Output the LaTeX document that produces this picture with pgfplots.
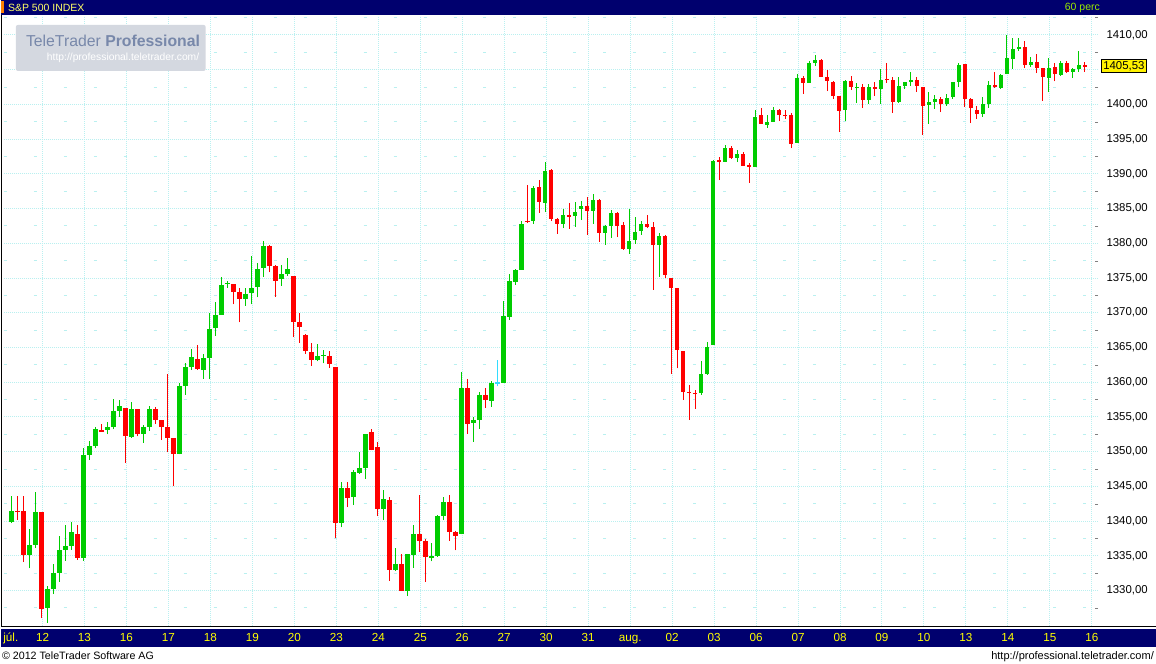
\documentclass[border=0pt]{standalone}
\usepackage{pgfplots}
\usepackage{pgfplotstable}
\pgfplotsset{compat=1.18}
\usepackage{fontspec}
\setmainfont{Liberation Sans}
\definecolor{navy}{RGB}{0,0,110}
\definecolor{cgreen}{RGB}{0,204,0}
\definecolor{cred}{RGB}{255,0,0}
\definecolor{ccyan}{RGB}{51,220,255}
\definecolor{gridc}{RGB}{185,240,240}
\definecolor{ylab}{RGB}{255,255,0}
\definecolor{wmbox}{RGB}{212,216,224}
\definecolor{wmtext}{RGB}{120,136,170}

% hourly candles, x = bar index, columns: open high low close
\pgfplotstableread{
i o h l c
0 1339.9 1343.6 1339.7 1341.5
3 1335.2 1338.8 1333.2 1336.6
4 1336.6 1344.2 1336.1 1341.3
6 1327.5 1330.6 1325.3 1330.3
7 1330.3 1333.8 1329.5 1332.5
8 1332.5 1337.8 1331.3 1335.8
9 1335.8 1339.4 1334.3 1336.4
10 1336.4 1339.8 1335.9 1338.4
12 1334.7 1350.5 1334.3 1349.5
13 1349.5 1351.5 1348.8 1350.8
14 1350.8 1353.5 1350.5 1353.2
16 1353.1 1354.3 1352.5 1353.6
17 1353.5 1357.6 1353.2 1355.9
18 1355.9 1357.5 1355.0 1356.6
20 1352.1 1357.2 1352.0 1356.2
22 1352.5 1353.8 1351.3 1353.5
23 1353.5 1356.6 1353.0 1356.1
28 1349.7 1359.9 1349.6 1359.5
29 1359.5 1362.8 1358.2 1362.2
30 1362.2 1364.8 1361.8 1363.6
32 1361.8 1364.1 1360.5 1363.5
33 1363.5 1369.9 1360.4 1367.7
34 1367.8 1371.6 1366.7 1369.7
35 1369.7 1375.2 1369.7 1374.0
36 1374.2 1374.6 1373.6 1374.3
39 1372.0 1373.5 1371.0 1372.7
40 1372.9 1378.2 1371.2 1373.6
41 1373.7 1377.1 1372.2 1376.3
42 1376.5 1380.4 1375.2 1379.6
45 1374.8 1376.9 1373.9 1375.6
46 1375.6 1377.9 1375.3 1376.3
51 1363.2 1365.5 1363.0 1363.7
52 1363.8 1364.7 1362.7 1363.9
55 1339.7 1345.6 1339.1 1344.8
57 1343.4 1347.4 1342.3 1347.1
58 1347.0 1349.9 1346.8 1347.6
59 1347.7 1352.6 1346.1 1352.6
62 1341.7 1344.5 1340.2 1343.2
64 1332.9 1336.1 1332.8 1333.8
66 1329.9 1335.2 1329.2 1335.2
67 1335.2 1339.5 1333.3 1338.2
70 1334.8 1336.8 1334.2 1335.0
71 1335.0 1340.9 1334.9 1340.8
72 1340.8 1343.5 1340.2 1342.7
75 1338.1 1361.4 1338.1 1359.2
77 1354.2 1355.0 1351.4 1354.6
78 1354.6 1358.6 1353.3 1358.2
80 1357.3 1360.1 1356.5 1359.9
82 1359.9 1371.7 1359.9 1369.6
83 1369.4 1375.6 1369.0 1374.5
84 1374.5 1376.3 1374.0 1376.2
85 1376.2 1383.2 1376.2 1382.8
87 1383.2 1388.3 1382.8 1388.0
89 1385.8 1391.7 1384.5 1390.4
92 1382.8 1385.0 1382.2 1384.1
94 1384.0 1386.0 1382.4 1384.5
95 1385.0 1386.1 1383.4 1385.3
97 1384.7 1387.1 1382.8 1386.3
99 1381.5 1382.7 1379.8 1382.5
100 1382.5 1384.8 1380.8 1384.3
103 1379.2 1385.0 1378.5 1380.4
104 1380.5 1383.8 1379.9 1381.7
105 1381.7 1383.2 1381.2 1382.8
108 1379.8 1381.5 1375.2 1381.1
115 1358.4 1363.0 1358.2 1361.2
116 1361.2 1365.8 1361.1 1365.0
117 1365.4 1392.0 1365.4 1391.9
119 1391.7 1394.2 1391.7 1393.7
121 1392.3 1393.5 1391.7 1392.9
124 1391.0 1399.2 1391.0 1398.2
126 1397.1 1398.4 1396.6 1397.5
127 1397.5 1399.6 1397.5 1399.2
131 1394.5 1404.4 1394.5 1403.8
133 1403.1 1406.3 1403.1 1406.0
134 1406.0 1407.1 1405.5 1406.4
139 1399.2 1403.5 1397.6 1403.4
141 1402.45 1403.1 1400.2 1402.5
143 1400.7 1403.0 1400.1 1402.5
145 1402.2 1405.1 1400.1 1403.5
148 1400.4 1404.0 1400.2 1402.7
149 1402.7 1403.2 1402.2 1403.2
150 1403.2 1404.7 1402.7 1403.5
153 1399.9 1401.8 1397.2 1400.4
154 1400.4 1401.4 1399.4 1400.8
156 1400.1 1401.5 1399.8 1400.9
157 1401.1 1403.2 1400.8 1403.2
158 1403.2 1406.0 1402.5 1405.7
162 1398.6 1401.1 1398.2 1400.1
163 1400.1 1403.4 1399.5 1402.8
165 1402.4 1404.4 1402.2 1404.25
166 1404.4 1410.0 1404.4 1406.7
167 1406.6 1409.6 1405.1 1408.0
168 1408.0 1409.6 1407.7 1408.3
170 1405.7 1406.8 1405.4 1406.1
173 1403.8 1406.7 1401.8 1405.3
175 1404.3 1406.3 1404.1 1406.0
177 1404.7 1405.3 1403.8 1405.1
178 1405.1 1407.7 1404.7 1405.7
}\greentab

\pgfplotstableread{
i o h l c
1 1341.5 1343.6 1340.2 1341.3
2 1341.4 1343.6 1334.1 1335.2
5 1341.3 1341.3 1326.1 1327.3
11 1338.2 1339.5 1334.4 1334.7
15 1353.1 1354.0 1352.9 1353.0
19 1356.3 1356.3 1348.4 1352.2
21 1356.1 1356.2 1352.2 1352.5
24 1356.2 1356.5 1354.0 1354.5
25 1354.5 1354.6 1351.7 1353.5
26 1353.6 1361.2 1349.9 1352.0
27 1352.0 1352.0 1345.0 1349.6
31 1363.4 1365.3 1361.8 1361.9
37 1374.2 1374.2 1371.2 1373.0
38 1373.0 1373.5 1368.6 1372.0
43 1379.6 1379.8 1375.8 1376.8
44 1376.8 1376.9 1372.3 1374.6
47 1375.3 1375.3 1366.5 1368.6
48 1368.7 1369.9 1365.7 1368.0
49 1366.8 1367.0 1364.1 1364.5
50 1364.3 1365.6 1362.4 1363.2
53 1363.8 1364.5 1362.1 1362.7
54 1362.2 1362.2 1337.5 1339.7
56 1344.8 1345.6 1342.0 1343.4
60 1352.8 1353.2 1350.2 1350.3
61 1350.6 1351.4 1340.7 1341.7
63 1343.0 1343.4 1331.4 1332.9
65 1333.8 1335.2 1329.9 1329.9
68 1338.2 1343.8 1335.6 1337.2
69 1337.2 1337.4 1331.3 1334.9
73 1342.8 1343.7 1337.2 1338.5
74 1338.5 1338.6 1335.8 1337.8
76 1359.2 1360.4 1352.6 1354.0
79 1358.2 1359.1 1356.3 1357.5
86 1383.2 1388.4 1382.9 1383.1
88 1388.1 1389.1 1384.4 1386.0
90 1390.6 1390.7 1383.2 1383.5
91 1383.5 1383.7 1381.4 1382.8
93 1384.1 1385.8 1382.1 1383.8
96 1385.3 1386.7 1381.2 1384.7
98 1386.3 1386.4 1380.2 1381.5
101 1384.3 1384.5 1380.9 1382.5
102 1382.7 1383.0 1379.1 1379.2
106 1382.8 1384.1 1382.2 1382.4
107 1382.4 1383.0 1373.3 1379.8
109 1381.1 1381.2 1375.0 1375.5
110 1375.0 1375.0 1361.2 1373.6
111 1373.5 1373.6 1362.0 1364.7
112 1364.5 1364.5 1357.5 1358.6
113 1358.6 1359.6 1354.6 1358.5
114 1358.5 1358.9 1356.2 1358.4
118 1391.9 1392.4 1389.1 1391.8
120 1393.7 1394.0 1392.2 1392.3
122 1392.9 1393.2 1391.2 1391.2
123 1391.2 1391.6 1388.7 1391.1
125 1398.4 1399.5 1397.2 1397.2
128 1399.2 1399.4 1397.6 1398.5
129 1398.5 1399.2 1397.9 1398.4
130 1398.5 1398.8 1393.7 1394.3
132 1403.8 1404.1 1401.5 1403.1
135 1406.4 1406.6 1404.0 1404.0
136 1404.0 1405.0 1401.9 1403.4
137 1403.2 1403.4 1400.8 1401.2
138 1401.2 1401.2 1396.0 1399.1
140 1403.4 1404.1 1402.1 1402.5
142 1402.5 1403.0 1399.5 1400.7
144 1402.5 1403.2 1401.2 1402.2
146 1403.7 1406.0 1403.1 1403.6
147 1403.5 1404.0 1398.8 1400.4
151 1403.5 1404.0 1401.8 1402.7
152 1402.5 1402.5 1395.6 1399.8
155 1400.8 1401.1 1398.9 1400.1
159 1405.8 1405.8 1399.6 1400.8
160 1400.8 1400.9 1397.3 1399.5
161 1399.2 1399.8 1397.9 1398.6
164 1402.8 1404.7 1402.4 1402.5
169 1408.3 1409.1 1405.3 1405.7
171 1406.1 1407.3 1404.5 1405.3
172 1405.3 1405.3 1400.5 1404.0
174 1405.4 1406.0 1403.3 1404.4
176 1406.0 1406.3 1404.5 1404.7
179 1405.6 1406.1 1404.7 1405.53
}\redtab

\pgfplotstableread{
i o h l c
81 1359.9 1363.2 1359.4 1359.9
}\dojitab

\pgfplotsset{
  wick/.style={draw=none, no markers, forget plot,
    error bars/.cd, y dir=plus, y explicit, error mark=none,
    error bar style={draw=#1, line width=1pt}},
  body/.style={draw=none, no markers, forget plot,
    error bars/.cd, y dir=both, y explicit, error mark=none,
    error bar style={draw=#1, line width=4.6pt}},
}

\begin{document}
\begin{tikzpicture}[x=1pt,y=1pt]
% canvas
\fill[white] (0,0) rectangle (1156,664);
% title bar
\fill[navy] (0,649) rectangle (1156,664);
\fill[orange] (0.5,651) rectangle (3.5,663);
\node[anchor=west, inner sep=0, text=ylab!60!white, font=\fontsize{10.5}{12}\selectfont] at (7,656.5) {S\&P 500 INDEX};
\node[anchor=east, inner sep=0, text=ylab!60!cgreen, font=\fontsize{10.5}{12}\selectfont] at (1100,656.5) {60 perc};
% bottom label bar
\fill[black] (0,36.5) rectangle (1156,38);
\fill[navy] (0,17) rectangle (1156,35);
% footer
\node[anchor=base west, inner sep=0, font=\fontsize{10.7}{13}\selectfont] at (1,4) {\textcopyright{} 2012 TeleTrader Software AG};
\node[anchor=base east, inner sep=0, font=\fontsize{11}{13}\selectfont] at (1154,4) {http://professional.teletrader.com/};
% left edge line
\fill[black] (0,38) rectangle (1.2,649);

\begin{axis}[
  at={(3pt,38pt)}, anchor=south west,
  scale only axis, width=1095pt, height=610pt,
  xmin=-1.283, xmax=181.2, ymin=1324.96, ymax=1412.73,
  axis x line*=bottom, axis y line*=right,
  axis line style={draw=none},
  major tick length=0pt,
  xtick={5.167,12.167,...,180.2},
  xticklabels={12,13,16,17,18,19,20,23,24,25,26,27,30,31,aug.,02,03,06,07,08,09,10,13,14,15,16},
  extra x ticks={-0.12},
  extra x tick labels={júl.},
  extra x tick style={grid=none},
  xticklabel style={anchor=base, yshift=-16pt, text=ylab, font=\fontsize{11.7}{13}\selectfont},
  ytick={1330,1335,...,1400,1410},
  extra y ticks={1405},
  extra y tick labels={},
  extra y tick style={grid=major},
  minor ytick={1327.5,1332.5,...,1412.5},
  yticklabel style={anchor=west, xshift=5pt, font=\fontsize{11.4}{13}\selectfont},
  /pgf/number format/.cd, fixed, fixed zerofill, precision=2, use comma, 1000 sep={}, assume math mode=true,
  /pgfplots/.cd,
  scaled y ticks=false,
  xmajorgrids, ymajorgrids, yminorgrids,
  major grid style={gridc, line width=1pt, dash pattern=on 1pt off 1pt},
  minor grid style={gridc, line width=1pt, dash pattern=on 3pt off 27pt},
]
\addplot[wick=cgreen] table[x=i, y=l, y error expr=\thisrow{h}-\thisrow{l}] {\greentab};
\addplot[wick=cred] table[x=i, y=l, y error expr=\thisrow{h}-\thisrow{l}] {\redtab};
\addplot[wick=ccyan] table[x=i, y=l, y error expr=\thisrow{h}-\thisrow{l}] {\dojitab};
\addplot[body=cgreen] table[x=i, y expr=(\thisrow{o}+\thisrow{c})/2, y error expr={max(abs(\thisrow{c}-\thisrow{o})/2,0.072)}] {\greentab};
\addplot[body=cred] table[x=i, y expr=(\thisrow{o}+\thisrow{c})/2, y error expr={max(abs(\thisrow{c}-\thisrow{o})/2,0.072)}] {\redtab};
\addplot[body=ccyan] table[x=i, y expr=(\thisrow{o}+\thisrow{c})/2, y error expr={max(abs(\thisrow{c}-\thisrow{o})/2,0.072)}] {\dojitab};
\coordinate (lp) at (axis cs:181.2,1405.53);
\end{axis}
% last price label
\node[anchor=west, fill=yellow, draw=black, line width=0.5pt, inner xsep=2pt, inner ysep=2pt, font=\fontsize{11.4}{13}\selectfont] at ([xshift=3pt]lp) {1405,53};
% watermark
\fill[wmbox, rounded corners=2pt] (15,593) rectangle (205,639);
\node[anchor=west, inner sep=0, text=wmtext, font=\fontsize{15.8}{18}\selectfont] at (25,623) {TeleTrader \textbf{Professional}};
\node[anchor=west, inner sep=0, text=white, font=\fontsize{10.3}{12}\selectfont] at (46,606) {http://professional.teletrader.com/};
\end{tikzpicture}
\end{document}
